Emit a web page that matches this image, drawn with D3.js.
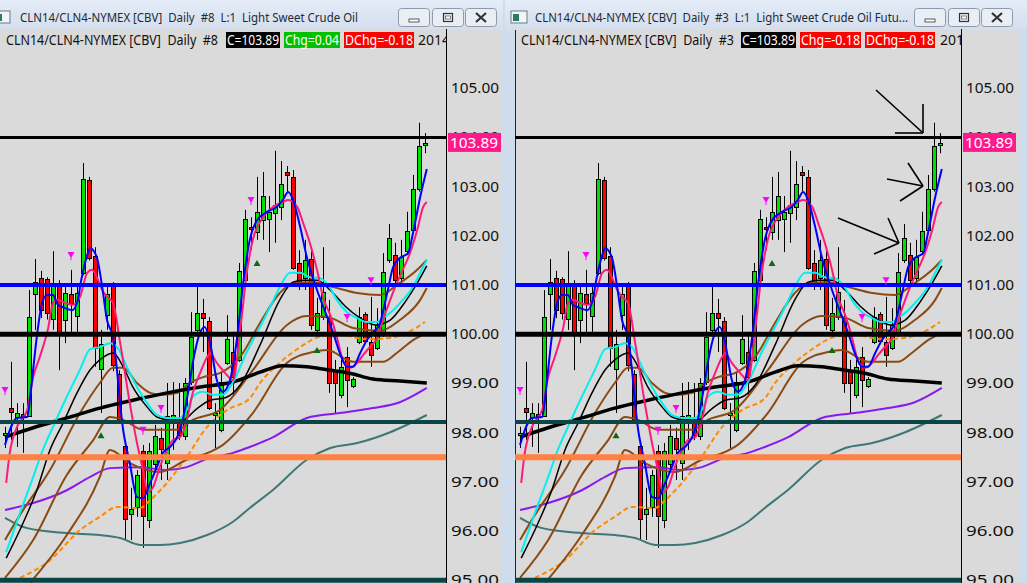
<!DOCTYPE html>
<html><head><meta charset="utf-8">
<script src="https://cdn.jsdelivr.net/npm/d3@7"></script>
<style>body{margin:0;background:#fff;overflow:hidden}svg{display:block}text{font-family:"Noto Sans","DejaVu Sans",sans-serif;white-space:pre}</style>
</head><body><svg id="c" width="1027" height="583"></svg>
<script>
// ---------- DATA ----------
const opens  =[97.99,98.50,98.32,98.38,98.34,100.82,101.14,101.12,100.31,101.04,100.29,100.82,100.37,101.25,103.14,101.59,99.30,100.39,101.02,99.19,97.73,96.35,96.49,97.63,96.23,97.36,97.89,97.38,98.26,98.26,97.93,99.03,100.09,100.43,100.27,98.40,98.05,99.42,99.64,99.48,101.10,102.18,102.08,102.32,102.34,102.47,102.59,103.30,103.20,101.45,101.14,101.53,100.09,100.35,100.33,99.27,98.77,99.54,98.95,99.84,100.41,99.84,99.72,100.03,101.51,101.61,101.14,101.69,102.12,102.95,103.85];
const highs  =[98.12,99.44,98.60,98.60,100.90,101.53,101.29,101.16,101.69,101.10,101.04,101.31,101.00,103.48,103.20,101.77,100.09,101.00,101.06,99.27,97.85,96.88,97.24,97.75,97.79,98.16,98.10,99.01,99.03,99.01,99.11,100.45,100.96,100.72,100.35,98.60,99.23,100.39,100.05,101.45,102.53,102.38,103.20,103.30,102.81,103.73,103.52,103.42,103.34,101.71,101.92,101.71,100.74,101.77,100.70,99.48,99.48,99.74,99.13,100.55,100.45,100.76,100.53,101.65,102.24,101.86,101.92,102.49,103.24,104.30,104.09];
const lows   =[97.69,97.85,97.71,97.59,98.32,100.09,100.33,100.30,100.09,99.27,99.82,100.05,100.05,101.20,101.50,99.34,98.40,100.09,99.25,98.20,95.82,95.82,96.29,95.66,96.06,97.24,97.04,97.04,97.65,97.85,97.85,98.97,99.99,99.64,98.46,97.69,98.01,99.38,98.73,99.44,101.06,101.71,101.92,101.92,101.67,101.86,102.32,102.90,101.31,100.90,100.90,100.09,99.95,100.29,98.81,98.40,98.70,98.52,98.91,99.80,99.80,99.34,99.68,99.95,101.45,101.00,101.04,101.61,102.04,102.90,103.68];
const closes =[97.99,98.42,98.40,98.32,100.35,101.06,100.49,100.43,101.04,100.05,100.84,100.64,100.84,103.16,101.55,99.72,99.80,100.82,99.38,98.28,96.25,96.45,97.14,96.31,97.63,97.93,97.67,98.34,98.36,97.95,99.01,99.95,100.43,100.33,98.50,98.40,99.03,99.90,99.13,101.29,102.34,102.14,102.49,102.81,102.49,102.63,103.06,103.24,101.35,101.04,101.51,100.19,100.43,100.86,99.01,99.01,99.34,99.07,99.09,100.35,99.86,99.58,100.19,101.27,101.96,101.10,101.57,102.10,102.95,103.83,103.89];

const yTicks=[95,96,97,98,99,100,101,102,103,104,105];
const lastPrice=103.89;
const levels=[104.00,101.00,100.00,98.22,97.50,95.00];

// indicator lines: [bar index, price]
const maBlue=[[0,97.75],[2,98.30],[3.7,98.32],[4.5,99.07],[5.3,99.95],[6.2,100.64],[7,100.80],[8,100.80],[8.8,100.60],[9.7,100.55],[11.2,100.49],[12,100.64],[12.8,101.16],[13.7,101.61],[14.2,101.75],[15.3,101.57],[16.2,100.96],[17,100.29],[18,99.95],[19.7,98.05],[20.8,97.38],[22,96.69],[23,96.67],[24.2,96.98],[25.3,97.30],[26.3,97.59],[27.5,97.71],[28.7,97.91],[29.5,98.20],[30.5,98.81],[31.3,99.42],[32.5,100.03],[33.3,100.15],[34.2,99.82],[35.3,99.07],[36.3,98.83],[37.5,99.07],[38.7,99.95],[39.7,101.04],[40.8,101.92],[42,102.32],[43.7,102.49],[45.3,102.59],[46.3,102.73],[47.2,102.89],[48,102.73],[49.2,102.18],[50.3,101.57],[52,100.90],[53.7,100.35],[54.7,100.03],[55.8,99.62],[57,99.34],[58,99.34],[59.2,99.62],[60.3,99.88],[61.3,100.03],[62.5,100.23],[63.7,100.84],[64.7,101.37],[65.8,101.55],[67.2,101.65],[68,102.06],[69.2,102.79],[70.3,103.36]];
const maPink=[[0.2,96.98],[0.8,97.59],[2,98.12],[3.7,98.46],[4.7,99.13],[5.8,99.54],[7.2,100.13],[8,100.64],[8.8,100.70],[10,100.64],[11.3,100.60],[12.5,100.76],[13.7,101.25],[14.5,101.31],[15.3,101.16],[16.2,100.90],[17,100.76],[18,100.64],[19.2,99.82],[20.8,98.60],[22,97.79],[23,97.24],[23.8,96.79],[24.7,96.90],[25.8,97.30],[27,97.65],[28,97.85],[29.2,97.91],[30.3,98.26],[31.3,98.81],[32.5,99.21],[33.7,99.54],[34.2,99.62],[35.3,99.42],[36.3,99.27],[37,99.17],[38,99.07],[39.2,100.09],[40.3,101.25],[41.3,101.92],[43,102.38],[44.7,102.59],[46.3,102.69],[47.2,102.73],[48.7,102.59],[49.7,102.26],[50.8,101.86],[52,101.31],[53,100.76],[54.2,100.39],[55.3,99.95],[56.3,99.48],[57.5,99.32],[58.7,99.42],[59.7,99.58],[60.8,99.74],[62,99.92],[63,100.29],[64.2,100.70],[65.3,101.04],[66.3,101.31],[67.5,101.65],[68.7,102.12],[69.7,102.59],[70.3,102.69]];
const maCyan=[[0.2,95.57],[2.5,96.37],[4.7,97.10],[6.3,97.65],[8,98.12],[10.3,98.73],[12.5,99.28],[14.2,99.70],[15.8,99.74],[17.5,99.82],[18.8,99.72],[20.3,99.34],[22,98.93],[23.7,98.60],[25.3,98.36],[27,98.30],[29.2,98.30],[30.3,98.46],[31.3,98.73],[33,98.83],[34.7,98.77],[36.3,98.77],[38,99.03],[40.3,99.64],[42.5,100.15],[44.2,100.56],[45.8,100.96],[47.5,101.25],[49.2,101.25],[50.8,101.16],[52.5,101.14],[54.2,100.94],[55.3,100.70],[57,100.45],[58.7,100.33],[60.3,100.25],[62,100.25],[63,100.33],[64.7,100.49],[66.3,100.70],[68,100.96],[69.2,101.25],[70.3,101.51]];
const maBlackThin=[[0.2,95.45],[3,96.16],[5.3,96.83],[7.5,97.65],[9.7,98.20],[12,98.81],[14.2,99.28],[15.8,99.48],[18,99.62],[19.7,99.34],[21.3,98.93],[23.7,98.52],[25.3,98.32],[27.5,98.26],[29.7,98.26],[31.7,98.46],[34.2,98.66],[36.7,98.71],[39.2,98.97],[42.5,99.78],[45.8,100.70],[48,101.06],[49.7,101.10],[52,101.10],[54.2,100.90],[56.7,100.57],[59.2,100.33],[61.7,100.19],[64.2,100.29],[66.7,100.66],[68.8,101.06],[70.3,101.39]];
const maBlackThick=[[0,97.91],[4.7,98.10],[10.3,98.30],[15.8,98.50],[21.3,98.66],[27,98.81],[32.5,98.93],[38,99.03],[42.5,99.23],[46.3,99.36],[50.3,99.34],[53.7,99.28],[57.5,99.21],[61.3,99.09],[65.8,99.05],[70.3,99.01]];
const maPurple=[[0,96.43],[4.7,96.57],[10.3,96.83],[14.2,97.10],[17.5,97.28],[22.5,97.30],[27,97.24],[30.3,97.30],[33.7,97.47],[38,97.59],[40.8,97.71],[44.7,97.91],[50.3,98.30],[55.8,98.40],[61.3,98.50],[65.8,98.62],[70.3,98.91]];
const maSlate=[[0,96.27],[3.7,96.06],[10.3,95.96],[15.8,95.92],[19.2,95.86],[22.5,95.72],[25.8,95.72],[29.2,95.76],[33.7,95.92],[38,96.19],[40.8,96.47],[44.7,96.84],[50.3,97.45],[54.2,97.69],[58.7,97.79],[64.2,98.01],[70.3,98.36]];
const maOrange=[[2.5,95.05],[7.5,95.41],[12.5,96.02],[15.8,96.29],[18.7,96.49],[22.5,96.47],[24.2,96.63],[27,96.98],[30.3,97.51],[33.7,98.12],[37,98.46],[40.8,98.70],[42.5,99.01],[45.8,99.42],[49.2,99.74],[52.5,99.95],[55.8,99.99],[60.3,99.90],[63.7,99.92],[67,100.03],[70,100.25]];
const bandUpper=[[0,95.82],[2.5,96.33],[7.5,97.24],[12.5,98.40],[15.8,99.01],[18,99.32],[19.7,99.32],[22,99.01],[24.2,98.81],[26.3,98.77],[28.7,98.81],[30.8,99.01],[33,99.13],[35.8,99.21],[39.2,99.54],[42.5,100.23],[45.8,100.84],[48,101.04],[51.3,101.06],[54.7,100.96],[58.7,100.84],[62.5,100.80],[65.3,101.00],[68.7,101.31],[70.3,101.51]];
const bandMid=[[0,95.05],[4.7,95.82],[10.3,97.14],[14.7,97.85],[17.5,98.32],[19.7,98.26],[23,98.06],[28.7,98.06],[31.3,98.26],[35.8,98.46],[41.3,99.27],[47,100.19],[50.3,100.37],[53.7,100.35],[58,100.13],[62.5,100.07],[65.8,100.29],[69.2,100.70],[70.3,100.94]];
const bandLower=[[4.2,94.95],[10.3,95.92],[15.8,97.10],[17.5,97.65],[20.8,97.38],[25.8,97.20],[30.3,97.45],[34.2,97.61],[35.8,97.71],[41.3,98.40],[47,99.42],[51.3,99.64],[53.7,99.68],[58,99.44],[63,99.44],[65.3,99.62],[68,99.88],[70.3,100.03]];

// signal markers: [bar index, price]
const sellMarks=[[0,98.87],[11,101.61],[23,98.06],[26,98.50],[41,102.73],[57,100.35],[61,101.10]];
const buyMarks=[[16,97.95],[42,101.45],[52,99.68]];

// ---------- DRAW ----------
const svg=d3.select("#c");
const defs=svg.append("defs");
const g1=defs.append("linearGradient").attr("id","tb").attr("x1",0).attr("x2",0).attr("y1",0).attr("y2",1);
g1.append("stop").attr("offset","0").attr("stop-color","#e4ecf7");
g1.append("stop").attr("offset","1").attr("stop-color","#d3deed");

svg.append("rect").attr("width",1027).attr("height",583).attr("fill","#cfdcec");

const panels=[
 {left:0,right:503,chartL:0,axisX:446,xr:[5,425],title:"CLN14/CLN4-NYMEX [CBV]  Daily  #8  L:1  Light Sweet Crude Oil",titleX:20,titleW:338,
  head:"CLN14/CLN4-NYMEX [CBV]  Daily  #8",headX:6,headW:212,
  boxes:[{x:226,w:54,fill:"#000",t:"C=103.89"},{x:284,w:56,fill:"#00c000",t:"Chg=0.04"},{x:344,w:70,fill:"#ff0000",t:"DChg=-0.18"}],tail:{x:418,t:"2014"},
  btn:[398,432,465],arrows:false},
 {left:505,right:1027,chartL:515,axisX:961,xr:[520,940],title:"CLN14/CLN4-NYMEX [CBV]  Daily  #3  L:1  Light Sweet Crude Oil Futu...",titleX:535,titleW:373,
  head:"CLN14/CLN4-NYMEX [CBV]  Daily  #3",headX:521,headW:213,
  boxes:[{x:741,w:55,fill:"#000",t:"C=103.89"},{x:800,w:61,fill:"#ff0000",t:"Chg=-0.18"},{x:865,w:70,fill:"#ff0000",t:"DChg=-0.18"}],tail:{x:940,t:"2014"},
  btn:[914,948,981],arrows:true}
];

const y=d3.scaleLinear().domain([95,105]).range([580.3,88.3]);

panels.forEach((p,pi)=>{
  const G=svg.append("g");
  G.append("rect").attr("x",p.left).attr("y",0).attr("width",p.right-p.left).attr("height",583).attr("fill","#cfdcec");
  G.append("rect").attr("x",p.left).attr("y",0).attr("width",p.right-p.left).attr("height",30).attr("fill","url(#tb)");
  const ix = pi===0? -6 : 511;
  G.append("rect").attr("x",ix).attr("y",11).attr("width",16).attr("height",12).attr("fill","#f4f4f4").attr("stroke","#6a7a8a");
  G.append("rect").attr("x",ix+2).attr("y",14).attr("width",6).attr("height",7).attr("fill","#2a7a6a");
  G.append("text").attr("x",p.titleX).attr("y",22).attr("font-size",13).attr("fill","#1e2a36")
    .attr("textLength",p.titleW).attr("lengthAdjust","spacingAndGlyphs").text(p.title);
  p.btn.forEach((bx,k)=>{
    G.append("rect").attr("x",bx+0.5).attr("y",8.5).attr("width",31).attr("height",18).attr("rx",3)
     .attr("fill","#e9eef5").attr("stroke","#8d9aab");
    if(k===0){G.append("rect").attr("x",bx+11).attr("y",19).attr("width",10).attr("height",3).attr("fill","#fff").attr("stroke","#333").attr("stroke-width",0.8);}
    if(k===1){G.append("rect").attr("x",bx+11.5).attr("y",13.5).attr("width",9).attr("height",8).attr("fill","none").attr("stroke","#333").attr("stroke-width",1.2);
              G.append("rect").attr("x",bx+13.5).attr("y",16).attr("width",5).attr("height",3).attr("fill","#fff").attr("stroke","#333").attr("stroke-width",0.6);}
    if(k===2){G.append("path").attr("d",`M${bx+11},${13}L${bx+21},${22}M${bx+21},${13}L${bx+11},${22}`).attr("stroke","#333").attr("stroke-width",2.2);}
  });
  const cw=(pi===0?501:1019)-p.chartL;
  G.append("rect").attr("x",p.chartL).attr("y",30).attr("width",cw).attr("height",553).attr("fill","#dadada");
  if(pi===1) G.append("line").attr("x1",p.chartL+0.5).attr("x2",p.chartL+0.5).attr("y1",30).attr("y2",583).attr("stroke","#222");
  G.append("text").attr("x",p.headX).attr("y",45).attr("font-size",14).attr("fill","#111")
   .attr("textLength",p.headW).attr("lengthAdjust","spacingAndGlyphs").text(p.head);
  p.boxes.forEach(b=>{
    G.append("rect").attr("x",b.x).attr("y",32).attr("width",b.w).attr("height",16).attr("fill",b.fill);
    G.append("text").attr("x",b.x+1).attr("y",45).attr("font-size",14).attr("fill","#fff")
     .attr("textLength",b.w-2).attr("lengthAdjust","spacingAndGlyphs").text(b.t);
  });
  const cp="clip"+pi;
  defs.append("clipPath").attr("id",cp+"h").append("rect").attr("x",p.left).attr("y",30).attr("width",p.axisX-p.left).attr("height",30);
  G.append("text").attr("clip-path",`url(#${cp}h)`).attr("x",p.tail.x).attr("y",45).attr("font-size",14).attr("fill","#111").text(p.tail.t);

  defs.append("clipPath").attr("id",cp).append("rect").attr("x",p.chartL).attr("y",50).attr("width",p.axisX-p.chartL).attr("height",533);
  const P=G.append("g").attr("clip-path",`url(#${cp})`);
  const x=d3.scaleLinear().domain([0,70]).range(p.xr);

  const idx=d3.range(opens.length);
  P.selectAll(".w").data(idx).join("line")
    .attr("x1",i=>Math.round(x(i))+0.5).attr("x2",i=>Math.round(x(i))+0.5)
    .attr("y1",i=>y(highs[i])).attr("y2",i=>y(lows[i])).attr("stroke","#000").attr("stroke-width",1);
  P.selectAll(".b").data(idx).join("rect")
    .attr("x",i=>Math.round(x(i))-1.5).attr("width",4)
    .attr("y",i=>Math.round(y(Math.max(opens[i],closes[i])))+0.5)
    .attr("height",i=>Math.max(2,Math.round(Math.abs(y(opens[i])-y(closes[i])))))
    .attr("fill",i=>closes[i]>=opens[i]?"#00e000":"#ff0000").attr("stroke","#000").attr("stroke-width",1);

  const ln=d3.line().x(d=>x(d[0])).y(d=>y(d[1])).curve(d3.curveMonotoneX);
  const addLine=(data,color,w,dash)=>{
    const pth=P.append("path").datum(data).attr("d",ln).attr("fill","none").attr("stroke",color).attr("stroke-width",w).attr("stroke-linejoin","round");
    if(dash) pth.attr("stroke-dasharray",dash);
  };
  addLine(maSlate,"#3f7777",2);
  addLine(maPurple,"#8a18f0",2);
  addLine(maOrange,"#ff8a00",2,"5,3");
  addLine(bandLower,"#8b4a12",2);
  addLine(bandMid,"#8b4a12",2);
  addLine(bandUpper,"#8b4a12",2);
  addLine(maBlackThick,"#000",3.5);
  addLine(maBlackThin,"#000",1.5);
  addLine(maCyan,"#00f0f0",2);
  addLine(maPink,"#ff1a7a",2);
  addLine(maBlue,"#0000ff",2);

  const lvStyle=[["#000",3],["#0000ff",4],["#000",5],["#0b4545",4],["#ff8040",6],["#0b4545",5]];
  levels.forEach((v,k)=>{
    P.append("line").attr("x1",p.chartL).attr("x2",p.axisX).attr("y1",y(v)).attr("y2",y(v))
     .attr("stroke",lvStyle[k][0]).attr("stroke-width",lvStyle[k][1]);
  });
  P.selectAll(".sm").data(sellMarks).join("path")
    .attr("d",d=>{const cx=x(d[0]),cy=y(d[1]);return `M${cx-3.5},${cy-3}L${cx+3.5},${cy-3}L${cx},${cy+3}Z M${cx-0.5},${cy+2}h1v3h-1Z`;})
    .attr("fill","#ff00ff");
  P.selectAll(".bm").data(buyMarks).join("path")
    .attr("d",d=>{const cx=x(d[0]),cy=y(d[1]);return `M${cx-3.5},${cy+3}L${cx+3.5},${cy+3}L${cx},${cy-3}Z`;})
    .attr("fill","#106810");

  G.append("line").attr("x1",p.axisX+0.5).attr("x2",p.axisX+0.5).attr("y1",29).attr("y2",583).attr("stroke","#000");
  const ax=d3.axisRight(y).tickValues(yTicks).tickSize(0).tickPadding(5).tickFormat(d3.format(".2f"));
  const A=G.append("g").attr("transform",`translate(${p.axisX},0)`).call(ax);
  A.select(".domain").remove();
  A.selectAll("text").attr("font-size",14).attr("fill","#111").attr("font-family","Noto Sans, DejaVu Sans, sans-serif")
    .attr("textLength",48).attr("lengthAdjust","spacingAndGlyphs");
  G.append("rect").attr("x",p.axisX+2).attr("y",y(lastPrice)-10).attr("width",53).attr("height",19).attr("fill","#ff1a8c");
  G.append("text").attr("x",p.axisX+4).attr("y",y(lastPrice)+5).attr("font-size",14).attr("fill","#fff")
    .attr("textLength",48).attr("lengthAdjust","spacingAndGlyphs").text(lastPrice.toFixed(2));

  if(p.arrows){
    const ar=[[[876,90],[922,132]],[[895,133],[923,133]],[[923,104],[923,133]],
              [[887,179],[923,186]],[[908,163],[923,186]],[[900,201],[923,186]],
              [[838,218],[899,243]],[[888,218],[899,243]],[[874,254],[899,243]]];
    ar.forEach(s=>G.append("line").attr("x1",s[0][0]).attr("y1",s[0][1]).attr("x2",s[1][0]).attr("y2",s[1][1]).attr("stroke","#000").attr("stroke-width",1.6));
  }
});
</script></body></html>
